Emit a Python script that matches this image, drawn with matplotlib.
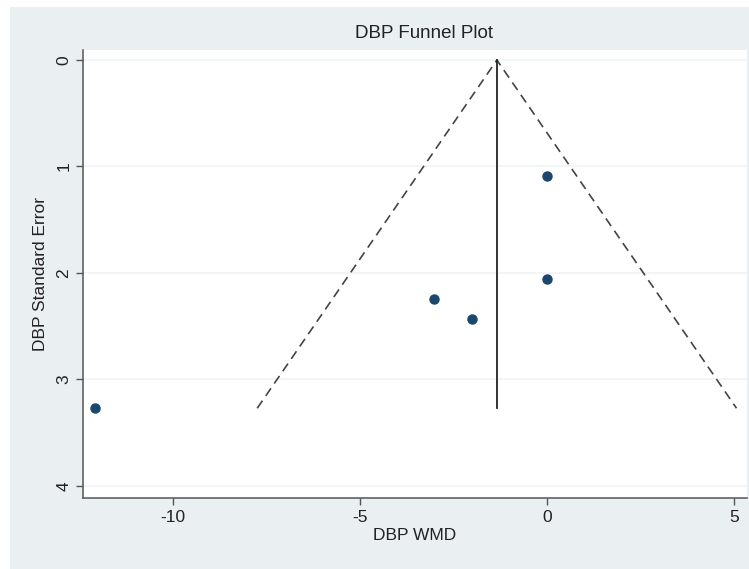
import matplotlib
matplotlib.use("Agg")
import matplotlib.pyplot as plt
from matplotlib.patches import Rectangle

plt.rcParams['font.family'] = ['Liberation Sans', 'DejaVu Sans']
plt.rcParams['axes.unicode_minus'] = False

# data
wmd = [-12.1, -3.02, -2.0, 0.0, 0.0]
se = [3.27, 2.24, 2.43, 1.09, 2.06]
pooled = -1.34
se_max = 3.27
xticks = [-10, -5, 0, 5]
yticks = [0, 1, 2, 3, 4]

W, H = 749, 569
fig = plt.figure(figsize=(W / 100, H / 100), dpi=100)
fig.patch.set_facecolor('white')
bg = Rectangle((10 / W, 0), 1 - 10 / W, 1 - 7 / H, transform=fig.transFigure,
               facecolor='#eaeff2', edgecolor='none', zorder=-10)
fig.patches.append(bg)

ax = fig.add_axes([83 / W, 1 - 498 / H, (747 - 83) / W, (498 - 50) / H])
ax.set_zorder(1)
ax.set_facecolor('white')

for y in yticks:
    ax.axhline(y, color='#f0f3f5', lw=1.2, zorder=1)

# funnel
ax.plot([pooled - 1.96 * se_max, pooled, pooled + 1.96 * se_max], [se_max, 0, se_max],
        ls=(0, (5.5, 3.5)), color='#444444', lw=1.2, zorder=2)
ax.plot([pooled, pooled], [0, se_max], color='#222222', lw=1.3, zorder=2)

ax.plot(wmd, se, 'o', color='#1a476f', ms=6.5, zorder=3)

ax.set_xlim(-12.41, 5.35)
ax.set_ylim(4.113, -0.094)
ax.set_xticks(xticks)
ax.set_xticklabels([str(t) for t in xticks])
ax.set_yticks(yticks)
ax.set_yticklabels([str(t) for t in yticks], rotation=90, va='center')
ax.tick_params(axis='both', direction='out', length=5, width=1, color='#555555',
               labelsize=12.5, labelcolor='#222222')
for s in ['top', 'right']:
    ax.spines[s].set_visible(False)
for s in ['left', 'bottom']:
    ax.spines[s].set_color('#555555')
    ax.spines[s].set_linewidth(1.1)

ax.set_xlabel('DBP WMD', fontsize=12.5, color='#222222', labelpad=2)
ax.set_ylabel('DBP Standard Error', fontsize=12.5, color='#222222', labelpad=6)
fig.text((83 + 765) / 2 / W, 1 - 33 / H, 'DBP Funnel Plot', ha='center', va='center',
         fontsize=13.5, color='#222222')

fig.savefig('out.png', dpi=100, facecolor=fig.get_facecolor())
